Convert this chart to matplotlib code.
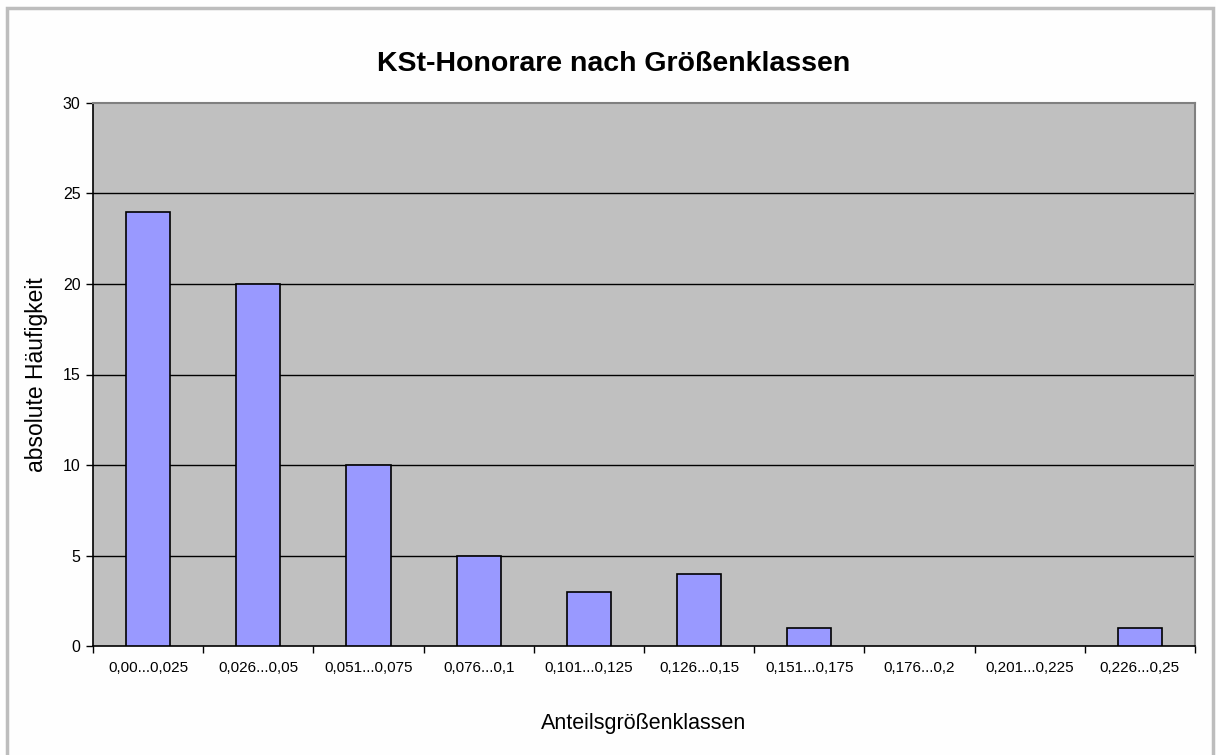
import matplotlib
matplotlib.use("Agg")
import matplotlib.pyplot as plt
from matplotlib.patches import Rectangle
import numpy as np

categories = ["0,00...0,025", "0,026...0,05", "0,051...0,075", "0,076...0,1",
              "0,101...0,125", "0,126...0,15", "0,151...0,175", "0,176...0,2",
              "0,201...0,225", "0,226...0,25"]
counts = [24, 20, 10, 5, 3, 4, 1, 0, 0, 1]
yticks = [0, 5, 10, 15, 20, 25, 30]

plt.rcParams['font.family'] = ['Liberation Sans', 'DejaVu Sans']

W, H = 1216, 755
fig = plt.figure(figsize=(W / 100, H / 100), dpi=100)
fig.patch.set_facecolor('#FEFEFE')

# outer chart border
fig.patches.append(Rectangle((7 / W, -0.01), (1213 - 7) / W, (H - 8) / H + 0.01,
                             transform=fig.transFigure, fill=False,
                             edgecolor='#BDBDBD', linewidth=2.5))

left, right, top, bottom = 93, 1195, 103, 646
ax = fig.add_axes([left / W, 1 - bottom / H, (right - left) / W, (bottom - top) / H])
ax.set_facecolor('#C0C0C0')

x = np.arange(len(categories))
bars = ax.bar(x, counts, width=0.4, color='#9999FF', edgecolor='black', linewidth=1.2, zorder=3)
for b, v in zip(bars, counts):
    if v == 0:
        b.set_visible(False)

ax.set_xlim(-0.5, len(categories) - 0.5)
ax.set_ylim(0, 30)
ax.set_yticks(yticks)
ax.set_yticklabels([str(v) for v in yticks], fontsize=11.5)
for v in yticks[1:-1]:
    ax.axhline(v, color='black', linewidth=1.0, zorder=1)

ax.set_xticks(np.arange(len(categories) + 1) - 0.5)
ax.set_xticklabels([])
ax.set_xticks(x, minor=True)
ax.set_xticklabels(categories, minor=True, fontsize=11)
ax.tick_params(axis='x', which='minor', length=0, pad=11)
ax.tick_params(axis='x', which='major', length=5, width=1, direction='out')
ax.tick_params(axis='y', length=5, width=1, direction='out', pad=4)

for s in ['left', 'bottom']:
    ax.spines[s].set_color('black')
    ax.spines[s].set_linewidth(1.2)
for s in ['top', 'right']:
    ax.spines[s].set_color('#808080')
    ax.spines[s].set_linewidth(1.5)

fig.text(614 / W, 1 - 64 / H, "KSt-Honorare nach Größenklassen", ha='center', va='center',
         fontsize=20.5, fontweight='bold')
fig.text(644 / W, 1 - 724 / H, "Anteilsgrößenklassen", ha='center', va='center', fontsize=15.5)
fig.text(37 / W, 1 - 375 / H, "absolute Häufigkeit", ha='center', va='center',
         rotation=90, fontsize=16.5)

fig.savefig("out.png", dpi=100, facecolor=fig.get_facecolor())
